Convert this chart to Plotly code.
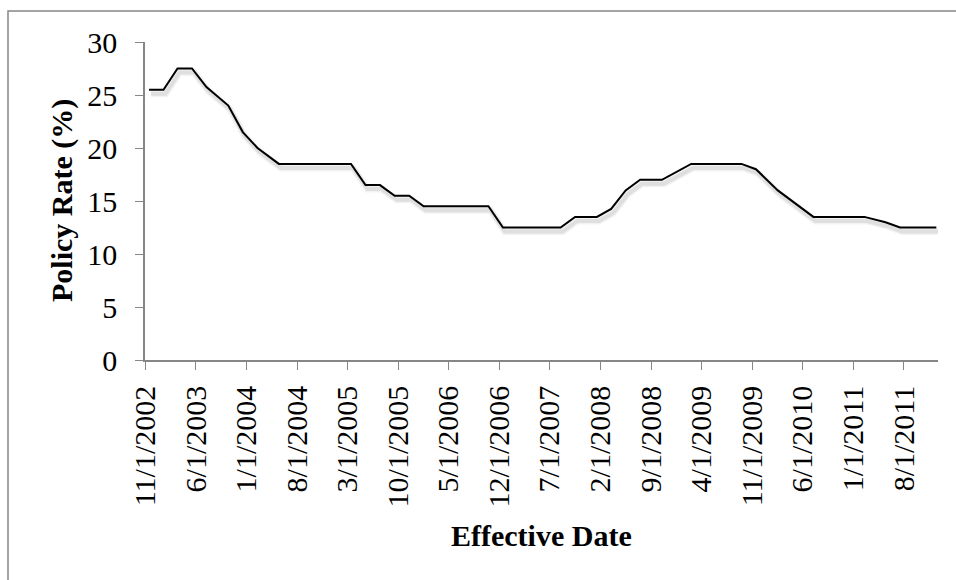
import pandas as pd
import plotly.graph_objects as go

# Policy rate changes (effective date, rate in %)
effective_dates = [
    "2002-11-01", "2003-01-01", "2003-03-01", "2003-05-01", "2003-07-01",
    "2003-10-01", "2003-12-01", "2004-02-01", "2004-05-01", "2005-03-01",
    "2005-05-01", "2005-07-01", "2005-09-01", "2005-11-01", "2006-01-01",
    "2006-10-01", "2006-12-01", "2007-08-01", "2007-10-01", "2008-01-01",
    "2008-03-01", "2008-05-01", "2008-07-01", "2008-10-01", "2009-02-01",
    "2009-09-01", "2009-11-01", "2010-02-01", "2010-07-01", "2011-02-01",
    "2011-05-01", "2011-07-01", "2011-12-01",
]
policy_rate = [
    25.5, 25.5, 27.5, 27.5, 25.75,
    24.0, 21.5, 20.0, 18.5, 18.5,
    16.5, 16.5, 15.5, 15.5, 14.5,
    14.5, 12.5, 12.5, 13.5, 13.5,
    14.25, 16.0, 17.0, 17.0, 18.5,
    18.5, 18.0, 16.0, 13.5, 13.5,
    13.0, 12.5, 12.5,
]

# Axis labels every seven months
tick_labels = [
    "11/1/2002", "6/1/2003", "1/1/2004", "8/1/2004", "3/1/2005", "10/1/2005",
    "5/1/2006", "12/1/2006", "7/1/2007", "2/1/2008", "9/1/2008", "4/1/2009",
    "11/1/2009", "6/1/2010", "1/1/2011", "8/1/2011",
]
y_ticks = [0, 5, 10, 15, 20, 25, 30]

x = pd.to_datetime(effective_dates)
# each month is a bucket; the point sits mid-bucket, the tick at its left edge
half_month = pd.Timedelta(days=15.2)
tick_pos = [pd.Timestamp(pd.to_datetime(t, format="%m/%d/%Y")) - half_month for t in tick_labels]

x0 = pd.Timestamp("2002-10-15")
x1 = pd.Timestamp("2011-12-08")

# page geometry
W, H = 956, 580
L, R, T, B = 145, 18, 42, 220
PW = W - L - R
PH = H - T - B

FONT = "Liberation Serif, Times New Roman, serif"
AX = "#868686"

# soft drop shadow under the line: same scales, nudged a few pixels
dx, dy = 2, 4
sx1 = x1 - (x1 - x0) * (dx / PW)
sy0 = 30 * dy / PH

fig = go.Figure()
for w, a in [(7, 0.05), (4, 0.08)]:
    fig.add_trace(go.Scatter(
        x=x, y=policy_rate, mode="lines",
        line=dict(color=f"rgba(0,0,0,{a})", width=w),
        xaxis="x", yaxis="y", hoverinfo="skip", showlegend=False,
    ))
fig.add_trace(go.Scatter(
    x=x, y=policy_rate, mode="lines",
    line=dict(color="#000000", width=2),
    xaxis="x2", yaxis="y2", showlegend=False,
))

fig.update_layout(
    width=W, height=H,
    margin=dict(l=L, r=R, t=T, b=B),
    paper_bgcolor="white",
    plot_bgcolor="rgba(0,0,0,0)",
    showlegend=False,
    font=dict(family=FONT, size=30, color="black"),
    xaxis=dict(type="date", domain=[dx / PW, 1], range=[x0, sx1], visible=False),
    yaxis=dict(domain=[0, 1 - dy / PH], range=[sy0, 30], visible=False),
    xaxis2=dict(
        type="date", domain=[0, 1], range=[x0, x1], anchor="y2",
        tickmode="array", tickvals=tick_pos, ticktext=tick_labels,
        tickangle=-90, ticks="outside", ticklen=8, tickcolor=AX, tickwidth=1,
        showline=True, linecolor=AX, linewidth=1.5, showgrid=False, zeroline=False,
        tickfont=dict(family=FONT, size=30), ticklabelstandoff=4,
    ),
    yaxis2=dict(
        domain=[0, 1], range=[0, 30], anchor="x2",
        tickmode="array", tickvals=y_ticks,
        ticks="outside", ticklen=8, tickcolor=AX, tickwidth=1,
        showline=True, linecolor=AX, linewidth=1.5, showgrid=False, zeroline=False,
        tickfont=dict(family=FONT, size=30), ticklabelstandoff=12,
    ),
    annotations=[
        dict(text="<b>Effective Date</b>", xref="paper", yref="paper",
             x=0.5, y=0, xanchor="center", yanchor="middle", yshift=-175,
             showarrow=False, font=dict(family=FONT, size=30)),
        dict(text="<b>Policy Rate (%)</b>", xref="paper", yref="paper",
             x=0, y=0.5, xanchor="center", yanchor="middle", xshift=-83,
             textangle=-90, showarrow=False, font=dict(family=FONT, size=30)),
    ],
    shapes=[
        dict(type="rect", xref="paper", yref="paper",
             x0=(8 - L) / PW, x1=(975 - L) / PW,
             y0=(H - B - 620) / PH, y1=(H - B - 11) / PH,
             line=dict(color=AX, width=1.5), fillcolor="rgba(0,0,0,0)", layer="below"),
    ],
)

fig.write_html("out.html")
